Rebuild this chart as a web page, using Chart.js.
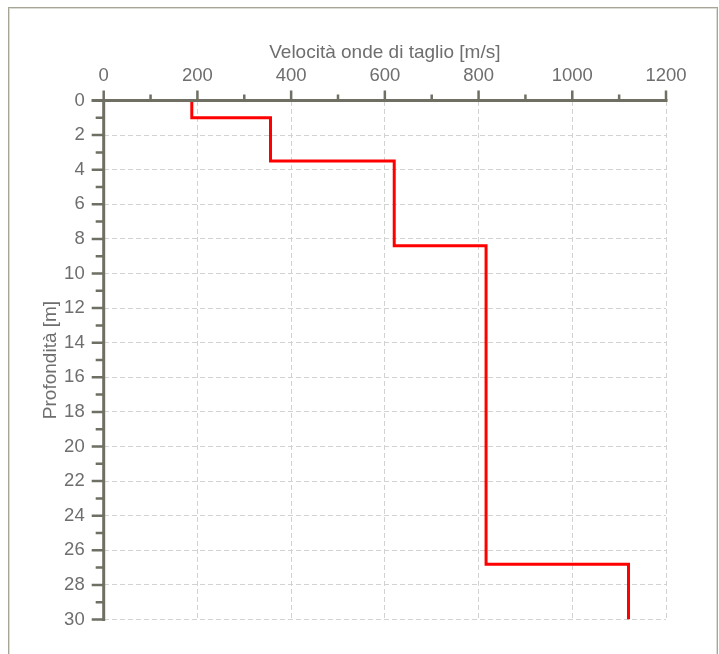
<!DOCTYPE html>
<html>
<head>
<meta charset="utf-8">
<script src="https://cdn.jsdelivr.net/npm/chart.js@4/dist/chart.umd.min.js"></script>
<style>
  html, body { margin: 0; padding: 0; background: #ffffff; overflow: hidden; }
  #wrap { position: relative; width: 719px; height: 654px; }
  #frame {
    position: absolute; left: 8px; top: 7px; width: 710px; height: 700px;
    border: 1px solid #a6a596; box-shadow: inset 1px 1px 0 #dcdcd4, inset -1px 0 0 #dcdcd4;
    box-sizing: border-box; pointer-events: none;
  }
  canvas { position: absolute; left: 0; top: 0; }
</style>
</head>
<body>
<div id="wrap">
  <canvas id="c" width="719" height="654"></canvas>
  <div id="frame"></div>
</div>
<script>
// Shear-wave velocity profile: one velocity per layer, layer boundaries in metres
const layerBounds = [0, 1, 3.5, 8.4, 26.8, 30];
const layerVelocity = [188, 356, 620, 816, 1120];

const xTitle = 'Velocità onde di taglio [m/s]';
const yTitle = 'Profondità [m]';
const xMin = 0, xMax = 1200, xStep = 200;
const yMin = 0, yMax = 30, yStep = 2;

// Step profile: each layer contributes its top and bottom point at constant velocity
const profilePoints = [];
layerVelocity.forEach((v, i) => {
  profilePoints.push({ x: v, y: layerBounds[i] });
  profilePoints.push({ x: v, y: layerBounds[i + 1] });
});

const AXIS_COLOR = '#6f6f63';
const TEXT_COLOR = '#6e6e6e';
const GRID_COLOR = '#d2d2d2';
const TICK_FONT = { family: 'Liberation Sans, Arial, sans-serif', size: 18.5 };
const TITLE_FONT = { family: 'Liberation Sans, Arial, sans-serif', size: 19 };

// Draws the solid axis lines with major and minor tick marks
const axesPlugin = {
  id: 'axesWithMinorTicks',
  afterDatasetsDraw(chart) {
    const { ctx, chartArea, scales } = chart;
    const xs = scales.x, ys = scales.y;
    ctx.save();
    ctx.strokeStyle = AXIS_COLOR;
    ctx.lineCap = 'butt';
    ctx.lineWidth = 3;
    const top = chartArea.top, left = chartArea.left;
    ctx.beginPath();
    ctx.moveTo(left - 12, top);
    ctx.lineTo(xs.getPixelForValue(xMax) + 1.5, top);
    ctx.moveTo(left, top - 1.5);
    ctx.lineTo(left, ys.getPixelForValue(yMax) + 1.5);
    ctx.stroke();
    // x ticks: major every xStep, minor halfway
    ctx.lineWidth = 2.5;
    ctx.beginPath();
    for (let v = xMin; v <= xMax; v += xStep / 2) {
      const px = xs.getPixelForValue(v);
      const major = (v % xStep) === 0;
      ctx.moveTo(px, top);
      ctx.lineTo(px, top - (major ? 10 : 6));
    }
    // y ticks: major every yStep, minor every unit
    for (let v = yMin; v <= yMax; v += yStep / 2) {
      const py = ys.getPixelForValue(v);
      const major = (v % yStep) === 0;
      ctx.moveTo(left, py);
      ctx.lineTo(left - (major ? 12 : 8), py);
    }
    ctx.stroke();
    ctx.restore();
  }
};

new Chart(document.getElementById('c'), {
  type: 'scatter',
  data: {
    datasets: [{
      data: profilePoints,
      showLine: true,
      borderColor: '#ff0000',
      borderWidth: 3,
      pointRadius: 0,
      pointHoverRadius: 0,
      tension: 0,
      fill: false
    }]
  },
  options: {
    responsive: false,
    animation: false,
    events: [],
    layout: { padding: { top: 0, left: 0, right: 53, bottom: 34.5 } },
    plugins: { legend: { display: false }, tooltip: { enabled: false } },
    scales: {
      x: {
        type: 'linear',
        position: 'top',
        min: xMin, max: xMax,
        afterFit(scale) { scale.height = 100.5; },
        ticks: { stepSize: xStep, color: TEXT_COLOR, font: TICK_FONT, padding: 4, maxRotation: 0,
                 callback: v => String(v) },
        grid: {
          color: c => (c.tick && c.tick.value === xMin) ? 'rgba(0,0,0,0)' : GRID_COLOR,
          lineWidth: 1,
          drawTicks: true,
          tickLength: 9,
          tickColor: 'rgba(0,0,0,0)'
        },
        border: { display: false, dash: [5, 3] },
        title: { display: true, text: xTitle, color: TEXT_COLOR, font: TITLE_FONT, padding: { top: 41, bottom: 0 } }
      },
      y: {
        type: 'linear',
        position: 'left',
        reverse: true,
        min: yMin, max: yMax,
        afterFit(scale) { scale.width = 103.7; },
        ticks: { stepSize: yStep, color: TEXT_COLOR, font: TICK_FONT, padding: 7,
                 callback: v => String(v) },
        grid: {
          color: c => (c.tick && c.tick.value === yMin) ? 'rgba(0,0,0,0)' : GRID_COLOR,
          lineWidth: 1,
          drawTicks: true,
          tickLength: 12,
          tickColor: 'rgba(0,0,0,0)'
        },
        border: { display: false, dash: [5, 3] },
        title: { display: true, text: yTitle, color: TEXT_COLOR, font: TITLE_FONT, padding: { top: 39, bottom: 0 } }
      }
    }
  },
  plugins: [axesPlugin]
});
</script>
</body>
</html>
